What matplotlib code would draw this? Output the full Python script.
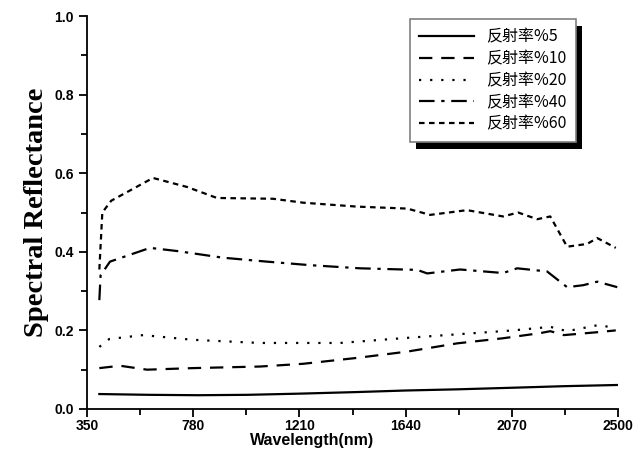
import matplotlib.pyplot as plt
from matplotlib.patches import Rectangle

# values
wl_5 = [400, 600, 800, 1000, 1210, 1440, 1640, 1850, 2070, 2280, 2495]
r_5 = [0.038, 0.036, 0.035, 0.036, 0.039, 0.043, 0.047, 0.050, 0.054, 0.058, 0.061]

wl_10 = [400, 484, 593, 779, 1050, 1225, 1443, 1646, 1848, 2034, 2184, 2225, 2280, 2427, 2490]
r_10 = [0.104, 0.110, 0.100, 0.104, 0.108, 0.115, 0.130, 0.146, 0.167, 0.180, 0.193, 0.198, 0.188, 0.196, 0.200]

wl_20 = [400, 440, 577, 779, 1050, 1374, 1646, 1848, 2075, 2225, 2293, 2415, 2490]
r_20 = [0.158, 0.178, 0.188, 0.176, 0.168, 0.168, 0.181, 0.190, 0.200, 0.209, 0.198, 0.213, 0.207]

wl_40 = [400, 405, 443, 605, 714, 900, 1078, 1253, 1455, 1686, 1727, 1860, 2034, 2091, 2212, 2293, 2358, 2415, 2496]
r_40 = [0.277, 0.340, 0.375, 0.410, 0.402, 0.385, 0.375, 0.366, 0.358, 0.354, 0.345, 0.355, 0.346, 0.358, 0.350, 0.310, 0.315, 0.324, 0.310]

wl_60 = [400, 412, 448, 617, 755, 876, 1103, 1225, 1443, 1646, 1739, 1888, 2034, 2095, 2172, 2225, 2293, 2374, 2415, 2490]
r_60 = [0.355, 0.500, 0.530, 0.588, 0.565, 0.537, 0.535, 0.525, 0.515, 0.510, 0.494, 0.506, 0.490, 0.500, 0.483, 0.490, 0.413, 0.420, 0.435, 0.410]

labels = ['反射率%5', '反射率%10', '反射率%20', '反射率%40', '反射率%60']
xticks = [350, 780, 1210, 1640, 2070, 2500]

fig = plt.figure(figsize=(6.42, 4.59), dpi=100)
ax = fig.add_axes([0.1355, 0.109, 0.8275, 0.856])

lw = 1.6
ax.plot(wl_5, r_5, color='black', lw=lw, linestyle='-', label=labels[0])
ax.plot(wl_10, r_10, color='black', lw=lw, linestyle=(0, (6, 4)), label=labels[1])
ax.plot(wl_20, r_20, color='black', lw=lw, linestyle=(0, (1, 4)), label=labels[2])
ax.plot(wl_40, r_40, color='black', lw=lw, linestyle=(0, (7, 3, 1.5, 3)), label=labels[3])
ax.plot(wl_60, r_60, color='black', lw=lw, linestyle=(0, (2.5, 2)), label=labels[4])

ax.set_xlim(350, 2500)
ax.set_ylim(0, 1.0)
ax.set_xticks(xticks)
ax.set_xticks([565, 995, 1425, 1855, 2285], minor=True)
ax.set_yticks([0.0, 0.2, 0.4, 0.6, 0.8, 1.0])
ax.set_yticks([0.1, 0.3, 0.5, 0.7, 0.9], minor=True)
ax.set_yticklabels(['0.0', '0.2', '0.4', '0.6', '0.8', '1.0'])

for side in ['top', 'right']:
    ax.spines[side].set_visible(False)
for side in ['left', 'bottom']:
    ax.spines[side].set_linewidth(1.3)
ax.tick_params(which='major', direction='out', length=6, width=1.3)
ax.tick_params(which='minor', direction='out', length=4, width=1.3)
ax.tick_params(axis='x', which='major', pad=1.5)
for t in ax.get_xticklabels() + ax.get_yticklabels():
    t.set_fontweight('bold')
    t.set_fontsize(10)
    t.set_family('Liberation Sans')

ax.set_xlabel('Wavelength(nm)', fontsize=11.5, fontweight='bold', family='Liberation Sans')
ax.xaxis.set_label_coords(0.424, -0.06)
ax.set_ylabel('Spectral Reflectance', fontsize=20.5, fontweight='bold', family='Liberation Serif', labelpad=4)

leg = ax.legend(loc='upper right', bbox_to_anchor=(0.936, 1.013), fancybox=False,
                handlelength=3.4, borderpad=0.6, labelspacing=0.3, handletextpad=0.8,
                prop={'family': ['Noto Sans CJK SC', 'DejaVu Sans'], 'size': 11.5})
leg.get_frame().set_edgecolor('#808080')
leg.get_frame().set_linewidth(1.2)
leg.get_frame().set_alpha(1)
leg.set_zorder(5)

# drop shadow behind the legend box
fig.canvas.draw()
bb = leg.get_window_extent().transformed(fig.transFigure.inverted())
dx, dy = 6 / 642, 7 / 459
shadow = Rectangle((bb.x0 + dx, bb.y0 - dy), bb.width, bb.height,
                   transform=fig.transFigure, facecolor='black', edgecolor='none',
                   zorder=4, clip_on=False)
ax.add_patch(shadow)

fig.savefig('out.png', dpi=100)
